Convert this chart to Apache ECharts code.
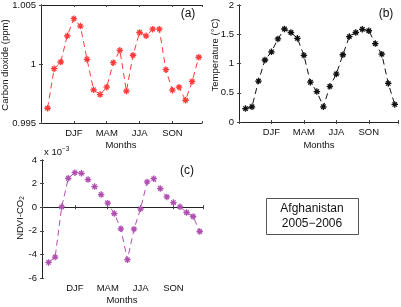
<!DOCTYPE html>
<html>
<head>
<meta charset="utf-8">
<script src="https://cdn.jsdelivr.net/npm/echarts@6/dist/echarts.min.js"></script>
<style>
  html, body { margin: 0; padding: 0; background: #fff; }
  #main { width: 401px; height: 307px; }
</style>
</head>
<body>
<div id="main"></div>
<script>
// month index 1..24 (two seasonal cycles), labels at season centres
const months = [1, 2, 3, 4, 5, 6, 7, 8, 9, 10, 11, 12, 13, 14, 15, 16, 17, 18, 19, 20, 21, 22, 23, 24]
const seasonTicks = { 5: 'DJF', 10: 'MAM', 15: 'JJA', 20: 'SON' }

// (a) carbon dioxide (ppm, normalised)
const co2 = [0.99625, 0.9996, 1.00017, 1.00239, 1.00384, 1.00321, 1.0004, 0.99781, 0.99741, 0.99804, 1.00011, 1.00116,
    0.9977, 1.00074, 1.00267, 1.00239, 1.00295, 1.00295, 0.99952, 0.99778, 0.99804, 0.99693, 0.99852, 1.00057]
// (b) temperature (°C)
const temperature = [0.23, 0.26, 0.70, 1.06, 1.20, 1.42, 1.59, 1.53, 1.43, 1.14, 0.68, 0.52,
    0.26, 0.61, 0.82, 1.15, 1.46, 1.53, 1.585, 1.56, 1.34, 1.16, 0.66, 0.30]
// (c) NDVI-CO2 (x 10^-3)
const ndviCo2 = [-4.68, -4.23, 0.03, 2.45, 2.93, 2.87, 2.34, 1.75, 1.07, 0.34, -0.54, -1.83,
    -4.45, -1.86, -0.14, 2.14, 2.42, 1.58, 0.87, 0.39, 0.03, -0.45, -0.79, -2.06]

const FONT = 'Liberation Sans'
const asterisk = 'path://M5,0L5,10M0,5L10,5M1.6,1.6L8.4,8.4M1.6,8.4L8.4,1.6'

const chart = echarts.init(document.getElementById('main'), null, { renderer: 'canvas' })

function xAxes(gridIndex) {
    const base = {
        type: 'value',
        gridIndex: gridIndex,
        min: 0,
        max: 24.5,
        interval: 5,
        splitLine: { show: false },
        axisLine: { lineStyle: { color: '#222', width: 1 } },
        axisTick: { inside: true, length: 2, lineStyle: { color: '#444' } }
    }
    return [
        Object.assign({}, base, {
            position: 'bottom',
            axisLabel: {
                margin: 5,
                fontFamily: FONT,
                fontSize: 9.5,
                color: '#111',
                formatter: v => seasonTicks[v] || ''
            }
        }),
        Object.assign({}, base, { position: 'top', axisLabel: { show: false } })
    ]
}

function yAxes(gridIndex, min, max, interval) {
    const base = {
        type: 'value',
        gridIndex: gridIndex,
        min: min,
        max: max,
        interval: interval,
        splitLine: { show: false },
        axisLine: { show: true, lineStyle: { color: '#222', width: 1 } },
        axisTick: { show: true, inside: true, length: 2, lineStyle: { color: '#444' } }
    }
    return [
        Object.assign({}, base, {
            position: 'left',
            axisLabel: { margin: 5, fontFamily: FONT, fontSize: 9.5, color: '#111' }
        }),
        Object.assign({}, base, { position: 'right', axisLabel: { show: false } })
    ]
}

function panelSeries(values, color, xIndex, yIndex) {
    return {
        type: 'line',
        xAxisIndex: xIndex,
        yAxisIndex: yIndex,
        data: months.map((m, i) => [m, values[i]]),
        symbol: asterisk,
        symbolSize: 6.5,
        showSymbol: true,
        animation: false,
        lineStyle: { color: color, width: 1, type: [6, 4] },
        itemStyle: { color: color, borderColor: color, borderWidth: 1.3 }
    }
}

function vText(x, y, text, rich) {
    return {
        type: 'text',
        x: x,
        y: y,
        rotation: Math.PI / 2,
        style: {
            text: text,
            rich: rich,
            align: 'center',
            verticalAlign: 'middle',
            fontFamily: FONT,
            fontSize: 9.5,
            fill: '#111'
        }
    }
}

function plainText(x, y, text, size) {
    return {
        type: 'text',
        x: x,
        y: y,
        style: {
            text: text,
            align: 'center',
            verticalAlign: 'middle',
            fontFamily: FONT,
            fontSize: size,
            fill: '#111'
        }
    }
}

chart.setOption({
    animation: false,
    grid: [
        { left: 41, top: 5, width: 161, height: 118 },
        { left: 239, top: 5, width: 160, height: 117 },
        { left: 42, top: 160, width: 161, height: 118 }
    ],
    xAxis: [].concat(xAxes(0), xAxes(1), xAxes(2)),
    yAxis: [].concat(
        yAxes(0, 0.995, 1.005, 0.005),
        yAxes(1, 0, 2, 0.5),
        yAxes(2, -6, 4, 2)
    ),
    series: [
        panelSeries(co2, '#ff3a3a', 0, 0),
        panelSeries(temperature, '#111111', 2, 2),
        panelSeries(ndviCo2, '#b04fb0', 4, 4)
    ],
    graphic: [
        // axis titles
        vText(5, 65, 'Carbon dioxide (ppm)'),
        vText(215, 55, 'Temperature (°C)'),
        vText(20, 218, '{m|NDVI-CO}{s|2}', {
            m: { fontFamily: FONT, fontSize: 9.5, lineHeight: 12 },
            s: { fontFamily: FONT, fontSize: 6.5, verticalAlign: 'bottom' }
        }),
        plainText(121, 145, 'Months', 9.5),
        plainText(319, 145, 'Months', 9.5),
        plainText(122, 300, 'Months', 9.5),
        // panel letters
        plainText(188, 14, '(a)', 12),
        plainText(386, 14, '(b)', 12),
        plainText(187, 171, '(c)', 12),
        // exponent label for panel (c)
        {
            type: 'text',
            x: 44,
            y: 152,
            style: {
                text: '{m|x 10}{s|−3}',
                verticalAlign: 'middle',
                rich: {
                    m: { fontFamily: FONT, fontSize: 9.5, lineHeight: 12, fill: '#111' },
                    s: { fontFamily: FONT, fontSize: 6.5, verticalAlign: 'top', fill: '#111' }
                }
            }
        },
        // country box
        {
            type: 'rect',
            shape: { x: 266.5, y: 198.5, width: 92, height: 36 },
            style: { fill: '#fff', stroke: '#555', lineWidth: 1 }
        },
        plainText(312, 208.5, 'Afghanistan', 12),
        plainText(312, 223.5, '2005−2006', 12)
    ]
})
</script>
</body>
</html>
